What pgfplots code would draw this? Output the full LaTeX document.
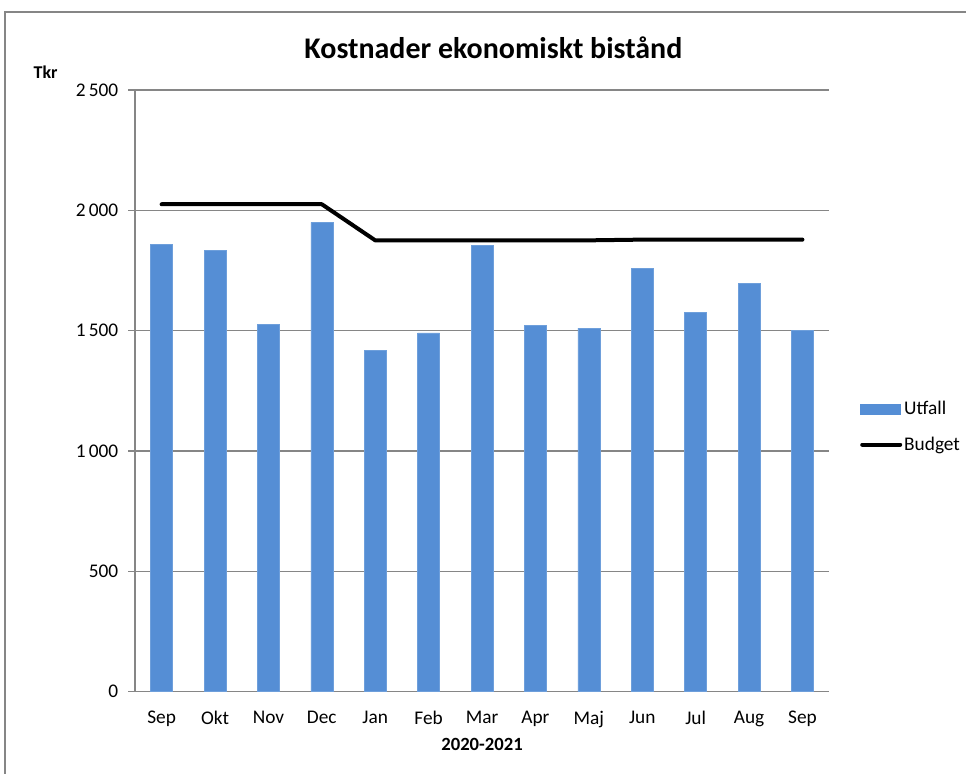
\documentclass[border=0pt]{standalone}
\usepackage{fontspec}
\setmainfont{Carlito}
\usepackage{pgfplots}
\pgfplotsset{compat=1.18}
\definecolor{utfall}{RGB}{85,142,213}
\definecolor{gridgray}{RGB}{134,134,134}

\begin{document}
\begin{tikzpicture}
\begin{axis}[
    at={(0,0)}, anchor=south west,
    scale only axis, width=521pt, height=451.5pt,
    xmin=-0.5, xmax=12.5, ymin=0, ymax=2500,
    xtick={0,...,12},
    xticklabels={Sep,Okt,Nov,Dec,Jan,Feb,Mar,Apr,Maj,Jun,Jul,Aug,Sep},
    major x tick style={draw=none},
    extra x ticks={-0.5,0.5,...,12.5}, extra x tick labels={},
    extra x tick style={major tick length=5pt, tick align=outside},
    ytick={0,500,...,2500},
    ymajorgrids, grid style={gridgray, line width=0.9pt},
    axis x line*=bottom, axis y line*=left,
    axis line style={gridgray, line width=0.9pt, -},
    tick style={gridgray, line width=0.9pt},
    major tick length=5pt, tick align=outside,
    /pgf/number format/.cd, 1000 sep={\,}, assume math mode=true, /pgfplots/.cd,
    tick label style={font=\fontsize{14.5}{17}\selectfont, black},
    yticklabel style={xshift=-4pt},
    xticklabel style={yshift=-6pt},
    legend style={draw=none, fill=none, at={(1.044,0.44)}, anchor=west,
        font=\fontsize{14.5}{17}\selectfont, row sep=12pt, inner sep=0pt,
        nodes={inner sep=1.5pt}},
    legend cell align=left,
]
\addplot[ybar, bar width=16.5pt, fill=utfall, draw=utfall!85!white,
    legend image code/.code={\fill[utfall] (0pt,-4pt) rectangle (30pt,4pt);}]
  coordinates {
 (0,1857) (1,1833) (2,1525) (3,1950) (4,1418) (5,1490) (6,1853)
 (7,1521) (8,1510) (9,1759) (10,1576) (11,1697) (12,1500)
};
\addlegendentry{Utfall}
\addplot[black, line width=3pt, line cap=round, line join=round, mark=none,
    legend image code/.code={\draw[black, line width=3pt, line cap=round] (1.5pt,0pt) -- (30pt,0pt);}]
  coordinates {
 (0,2025) (1,2025) (2,2025) (3,2025) (4,1875) (5,1875) (6,1875)
 (7,1875) (8,1875) (9,1878) (10,1878) (11,1878) (12,1878)
};
\addlegendentry{Budget}
\end{axis}
\node[font=\fontsize{22.5}{26}\selectfont\bfseries] at (269pt,483pt) {Kostnader ekonomiskt bistånd};
\node[font=\fontsize{13.5}{15}\selectfont\bfseries] at (-67pt,465pt) {Tkr};
\node[font=\fontsize{14}{16}\selectfont\bfseries] at (260.5pt,-40pt) {2020-2021};
\draw[gridgray, line width=0.9pt] (-97.5pt,-61.5pt) -- (-97.5pt,510pt) -- (624pt,510pt);
\path[use as bounding box] (-101.25pt,-61.5pt) rectangle (624pt,519pt);
\end{tikzpicture}
\end{document}
